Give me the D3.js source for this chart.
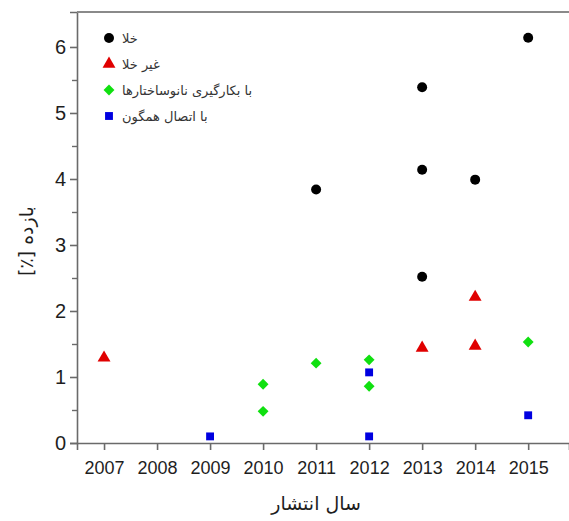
<!DOCTYPE html>
<html>
<head>
<meta charset="utf-8">
<script src="https://cdn.jsdelivr.net/npm/d3@7"></script>
<style>
  body { margin: 0; background: #fff; }
  svg { display: block; font-family: "Liberation Sans", Arial, sans-serif; }
</style>
</head>
<body>
<div id="chartContainer"></div>
<script>
const width = 569;
const height = 521;
const marginLeft = 77;
const marginTop = 12;
const marginBottom = 78;

// years on the x axis
const years = [2007, 2008, 2009, 2010, 2011, 2012, 2013, 2014, 2015];
const yTicks = [0, 1, 2, 3, 4, 5, 6];

// series (year, value in %)
const vacuumYears = [2011, 2013, 2013, 2013, 2014, 2015];
const vacuumValues = [3.84, 5.39, 4.14, 2.52, 3.99, 6.14];

const nonVacuumYears = [2007, 2013, 2014, 2014];
const nonVacuumValues = [1.29, 1.44, 1.47, 2.21];

const nanoYears = [2010, 2010, 2011, 2012, 2012, 2015];
const nanoValues = [0.89, 0.48, 1.21, 1.26, 0.86, 1.53];

const homoYears = [2009, 2012, 2012, 2015];
const homoValues = [0.1, 1.07, 0.1, 0.42];

const seriesNames = ["خلا", "غیر خلا", "با بکارگیری نانوساختارها", "با اتصال همگون"];
const seriesColors = ["#000000", "#e00000", "#10e010", "#0000e0"];
const seriesSymbols = [d3.symbolCircle, d3.symbolTriangle, d3.symbolDiamond2, d3.symbolSquare];
const seriesSizes = [78, 72, 75, 62];

const seriesData = [
    vacuumYears.map((y, i) => ({ year: y, value: vacuumValues[i] })),
    nonVacuumYears.map((y, i) => ({ year: y, value: nonVacuumValues[i] })),
    nanoYears.map((y, i) => ({ year: y, value: nanoValues[i] })),
    homoYears.map((y, i) => ({ year: y, value: homoValues[i] }))
];

var svg = d3.select("#chartContainer").append("svg")
    .attr("width", width).attr("height", height);

var xScale = d3.scaleLinear()
    .domain([2006.49, 2015.77])
    .range([marginLeft, width]);
var yScale = d3.scaleLinear()
    .domain([0, 6.53])
    .range([height - marginBottom, marginTop]);

const axisColor = "#6a6a6a";
const labelColor = "#1e1e1e";

// Bottom axis
var bottomAxis = svg.append("g")
    .attr("transform", "translate(0," + (height - marginBottom) + ")")
    .call(d3.axisBottom(xScale).tickValues(years).tickFormat(d3.format("d")).tickSize(7).tickPadding(11));
bottomAxis.select(".domain").attr("stroke", axisColor).attr("stroke-width", 1.6);
bottomAxis.selectAll(".tick line").attr("stroke", axisColor).attr("stroke-width", 1.6);
bottomAxis.selectAll(".tick text").attr("fill", labelColor)
    .style("font-size", "18px").style("font-family", "'Liberation Sans', Arial, sans-serif");

// Left axis with minor ticks
var minorTicks = d3.range(0.5, 6.5, 1);
var leftMinor = svg.append("g")
    .attr("transform", "translate(" + marginLeft + ",0)")
    .call(d3.axisLeft(yScale).tickValues(minorTicks).tickFormat("").tickSize(5));
leftMinor.select(".domain").remove();
leftMinor.selectAll(".tick line").attr("stroke", axisColor).attr("stroke-width", 1.4);

var leftAxis = svg.append("g")
    .attr("transform", "translate(" + marginLeft + ",0)")
    .call(d3.axisLeft(yScale).tickValues(yTicks).tickFormat(d3.format("d")).tickSize(7).tickPadding(4));
leftAxis.select(".domain").attr("stroke", axisColor).attr("stroke-width", 1.6);
leftAxis.selectAll(".tick line").attr("stroke", axisColor).attr("stroke-width", 1.6);
leftAxis.selectAll(".tick text").attr("fill", labelColor)
    .style("font-size", "20px").style("font-family", "'Liberation Sans', Arial, sans-serif");

// top border
svg.append("line")
    .attr("x1", marginLeft).attr("x2", width)
    .attr("y1", yScale(6.53)).attr("y2", yScale(6.53))
    .attr("stroke", "#8a8a8a").attr("stroke-width", 2);

// points
seriesData.forEach(function (data, s) {
    svg.append("g").selectAll("path")
        .data(data)
        .join("path")
        .attr("transform", d => "translate(" + xScale(d.year) + "," + yScale(d.value) + ")")
        .attr("d", d3.symbol().type(seriesSymbols[s]).size(seriesSizes[s]))
        .attr("fill", seriesColors[s]);
});

// legend
var legend = svg.append("g");
seriesNames.forEach(function (name, s) {
    var ly = 38 + s * 26;
    legend.append("path")
        .attr("transform", "translate(109," + ly + ")")
        .attr("d", d3.symbol().type(seriesSymbols[s]).size(seriesSizes[s]))
        .attr("fill", seriesColors[s]);
    legend.append("text")
        .attr("x", 122).attr("y", ly)
        .attr("dy", "0.35em")
        .attr("fill", "#333")
        .style("font-size", "13px")
        .style("font-family", "'DejaVu Sans', sans-serif")
        .text(name);
});

// axis titles
svg.append("text")
    .attr("x", xScale(2011)).attr("y", 510)
    .attr("text-anchor", "middle")
    .attr("fill", labelColor)
    .style("font-size", "19px")
    .style("font-family", "'DejaVu Sans', sans-serif")
    .text("سال انتشار");

svg.append("text")
    .attr("transform", "translate(33," + yScale(3.06) + ") rotate(-90)")
    .attr("text-anchor", "middle")
    .attr("direction", "rtl")
    .attr("fill", labelColor)
    .style("font-size", "19px")
    .style("font-family", "'DejaVu Sans', sans-serif")
    .text("بازده [٪]");
</script>
</body>
</html>
